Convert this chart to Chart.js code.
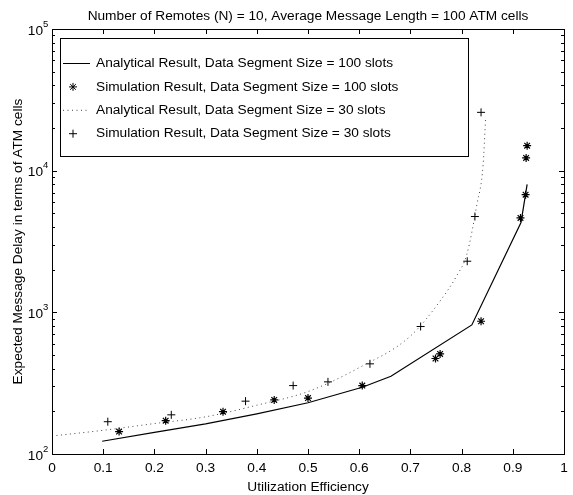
<!DOCTYPE html>
<html>
<head>
<meta charset="utf-8">
<script src="https://cdn.jsdelivr.net/npm/chart.js@4"></script>
<style>
  html, body { margin: 0; padding: 0; background: #fff; }
  #wrap { width: 573px; height: 495px; position: relative; }
</style>
</head>
<body>
<div id="wrap"><canvas id="chart"></canvas></div>
<script>
(function () {
  "use strict";

  // Values (x = utilization, y = delay in ATM cells).
  var analytic100X = [0.098, 0.2, 0.3, 0.4, 0.5, 0.606, 0.662, 0.82, 0.916, 0.928];
  var analytic100Y = [123, 142, 163, 192, 230, 296, 354, 815, 4300, 8000];
  var sim100X = [0.131, 0.222, 0.334, 0.434, 0.500, 0.606, 0.749, 0.758, 0.838, 0.915, 0.925, 0.926, 0.928];
  var sim100Y = [144, 172, 199, 241, 248, 304, 472, 509, 865, 4640, 6770, 12300, 15000];
  var analytic30X = [0, 0.1, 0.2, 0.3, 0.4, 0.5, 0.6, 0.7, 0.76, 0.79, 0.81, 0.83, 0.842, 0.847];
  var analytic30Y = [134, 147, 164, 183, 221, 276, 407, 680, 1230, 1800, 2550, 5800, 11000, 24000];
  var sim30X = [0.109, 0.233, 0.378, 0.471, 0.539, 0.621, 0.720, 0.811, 0.826, 0.838];
  var sim30Y = [169, 189, 236, 304, 323, 433, 794, 2295, 4745, 25800];

  var seriesLabels = [
    "Analytical Result, Data Segment Size = 100 slots",
    "Simulation Result, Data Segment Size = 100 slots",
    "Analytical Result, Data Segment Size = 30 slots",
    "Simulation Result, Data Segment Size = 30 slots"
  ];

  var xTickValues = [0, 0.1, 0.2, 0.3, 0.4, 0.5, 0.6, 0.7, 0.8, 0.9, 1];
  var xTickLabels = ["0", "0.1", "0.2", "0.3", "0.4", "0.5", "0.6", "0.7", "0.8", "0.9", "1"];
  var yDecades = [100, 1000, 10000, 100000];
  var yExponents = ["2", "3", "4", "5"];
  var minorSteps = [2, 3, 4, 5, 6, 7, 8, 9];

  var TITLE = "Number of Remotes (N) = 10, Average Message Length = 100 ATM cells";
  var X_TITLE = "Utilization Efficiency";
  var Y_TITLE = "Expected Message Delay in terms of ATM cells";
  var FONT = '"Liberation Sans", Arial, Helvetica, sans-serif';
  var FS = "13.7px ";

  function pts(xs, ys) {
    return xs.map(function (x, i) { return { x: x, y: ys[i] }; });
  }

  function drawMarker(ctx, style, cx, cy, r) {
    ctx.beginPath();
    ctx.moveTo(cx - r, cy); ctx.lineTo(cx + r, cy);
    ctx.moveTo(cx, cy - r); ctx.lineTo(cx, cy + r);
    if (style === "star") {
      var d = r * 0.7071;
      ctx.moveTo(cx - d, cy - d); ctx.lineTo(cx + d, cy + d);
      ctx.moveTo(cx - d, cy + d); ctx.lineTo(cx + d, cy - d);
    }
    ctx.stroke();
  }

  // Matlab-style box axes: inward ticks, log minor ticks, superscript labels.
  var axesPlugin = {
    id: "matlabAxes",
    afterDatasetsDraw: function (chart) {
      var ctx = chart.ctx, a = chart.chartArea;
      var xs = chart.scales.x, ys = chart.scales.y;
      ctx.save();
      ctx.strokeStyle = "#000";
      ctx.lineWidth = 1;
      ctx.strokeRect(a.left + 0.5, a.top + 0.5, a.right - a.left, a.bottom - a.top);

      ctx.beginPath();
      xTickValues.forEach(function (v) {
        var px = Math.round(xs.getPixelForValue(v)) + 0.5;
        ctx.moveTo(px, a.bottom); ctx.lineTo(px, a.bottom - 5);
        ctx.moveTo(px, a.top); ctx.lineTo(px, a.top + 5);
      });
      yDecades.forEach(function (d, i) {
        var py = Math.round(ys.getPixelForValue(d)) + 0.5;
        ctx.moveTo(a.left, py); ctx.lineTo(a.left + 5, py);
        ctx.moveTo(a.right, py); ctx.lineTo(a.right - 5, py);
        if (i === yDecades.length - 1) return;
        minorSteps.forEach(function (k) {
          var my = Math.round(ys.getPixelForValue(k * d)) + 0.5;
          ctx.moveTo(a.left, my); ctx.lineTo(a.left + 3, my);
          ctx.moveTo(a.right, my); ctx.lineTo(a.right - 3, my);
        });
      });
      ctx.stroke();

      ctx.fillStyle = "#000";
      ctx.font = FS + FONT;
      ctx.textAlign = "center";
      ctx.textBaseline = "middle";
      xTickValues.forEach(function (v, i) {
        ctx.fillText(xTickLabels[i], xs.getPixelForValue(v), a.bottom + 14);
      });

      yDecades.forEach(function (d, i) {
        var py = ys.getPixelForValue(d);
        ctx.font = FS + FONT;
        ctx.textAlign = "right";
        ctx.fillText("10", a.left - 9, py + 2);
        ctx.font = "9.5px " + FONT;
        ctx.textAlign = "left";
        ctx.fillText(yExponents[i], a.left - 9, py - 5);
      });

      ctx.font = FS + FONT;
      ctx.textAlign = "center";
      ctx.fillText(TITLE, (a.left + a.right) / 2, 16);
      ctx.fillText(X_TITLE, (a.left + a.right) / 2, 487);
      ctx.translate(18, (a.top + a.bottom) / 2);
      ctx.rotate(-Math.PI / 2);
      ctx.fillText(Y_TITLE, 0, 0);
      ctx.restore();
    }
  };

  // Boxed legend in the upper-left of the axes, opaque like Matlab's.
  var legendPlugin = {
    id: "matlabLegend",
    afterDraw: function (chart) {
      var ctx = chart.ctx;
      var box = { x: 60.5, y: 38.5, w: 408, h: 118 };
      ctx.save();
      ctx.fillStyle = "#fff";
      ctx.fillRect(box.x, box.y, box.w, box.h);
      ctx.strokeStyle = "#000";
      ctx.lineWidth = 1;
      ctx.strokeRect(box.x, box.y, box.w, box.h);
      ctx.font = FS + FONT;
      ctx.textAlign = "left";
      ctx.textBaseline = "middle";
      chart.data.datasets.forEach(function (ds, i) {
        var y = 63.5 + i * 23.4;
        ctx.strokeStyle = ds.borderColor;
        ctx.lineWidth = 1;
        if (ds.showLine) {
          ctx.setLineDash(ds.borderDash || []);
          ctx.beginPath();
          ctx.moveTo(63, y); ctx.lineTo(90, y);
          ctx.stroke();
          ctx.setLineDash([]);
        } else {
          drawMarker(ctx, ds.pointStyle, 73, y, ds.pointRadius);
        }
        ctx.fillStyle = "#000";
        ctx.fillText(ds.label, 96, y);
      });
      ctx.restore();
    }
  };

  new Chart(document.getElementById("chart").getContext("2d"), {
    type: "scatter",
    data: {
      datasets: [{
        label: seriesLabels[0],
        data: pts(analytic100X, analytic100Y),
        showLine: true,
        borderColor: "#000",
        borderWidth: 1.2,
        pointRadius: 0,
        tension: 0
      }, {
        label: seriesLabels[1],
        data: pts(sim100X, sim100Y),
        showLine: false,
        pointStyle: "star",
        pointRadius: 4,
        borderColor: "#000",
        backgroundColor: "#000",
        pointBorderWidth: 1.2
      }, {
        label: seriesLabels[2],
        data: pts(analytic30X, analytic30Y),
        showLine: true,
        borderColor: "#444",
        borderWidth: 1,
        borderDash: [1, 3.5],
        pointRadius: 0,
        cubicInterpolationMode: "monotone"
      }, {
        label: seriesLabels[3],
        data: pts(sim30X, sim30Y),
        showLine: false,
        pointStyle: "cross",
        pointRadius: 4,
        borderColor: "#000",
        backgroundColor: "#000",
        pointBorderWidth: 1
      }]
    },
    options: {
      responsive: true,
      maintainAspectRatio: false,
      animation: false,
      layout: { padding: { left: 52, right: 9, top: 29, bottom: 41 } },
      plugins: { legend: { display: false }, tooltip: { enabled: false }, title: { display: false } },
      scales: {
        x: { type: "linear", min: 0, max: 1, display: false },
        y: { type: "logarithmic", min: 100, max: 100000, display: false }
      }
    },
    plugins: [axesPlugin, legendPlugin]
  });
})();
</script>
</body>
</html>
